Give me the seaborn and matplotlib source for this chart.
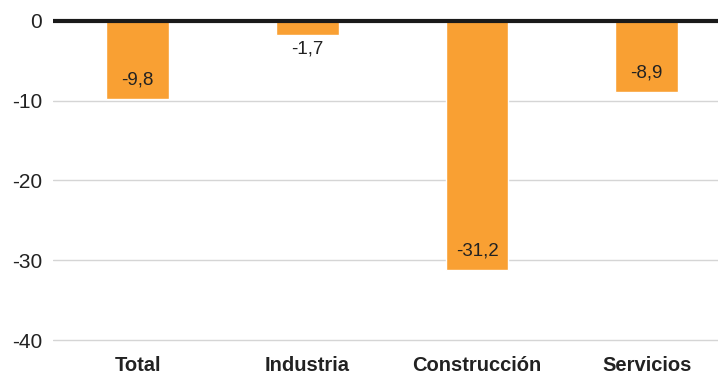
import matplotlib
matplotlib.use('Agg')
import matplotlib.pyplot as plt
import seaborn as sns
import pandas as pd

categories = ['Total', 'Industria', 'Construcción', 'Servicios']
values = [-9.8, -1.7, -31.2, -8.9]
labels = ['-9,8', '-1,7', '-31,2', '-8,9']

df = pd.DataFrame({'sector': categories, 'valor': values})

sns.set_style('white')
plt.rcParams['font.family'] = ['Liberation Sans', 'DejaVu Sans']

fig = plt.figure(figsize=(7.18, 3.76), dpi=100)
ax = fig.add_axes([0.0738, 0.0745, 0.9262, 0.8909])

sns.barplot(data=df, x='sector', y='valor', color='#F9A033', width=0.37,
            saturation=1, ax=ax, zorder=3)

ax.set_ylim(-41, 1)
ax.set_xlim(-0.5, 3.42)
ax.set_yticks([0, -10, -20, -30, -40])
ax.set_yticklabels(['0', '-10', '-20', '-30', '-40'])
ax.yaxis.grid(True, color='#D5D5D5', linewidth=1, zorder=0)
ax.axhline(0, color='#1a1a1a', linewidth=3, zorder=4)

for s in ax.spines.values():
    s.set_visible(False)
ax.tick_params(axis='y', length=0, pad=8, labelsize=15, labelcolor='#222222')
ax.tick_params(axis='x', length=0, pad=6, labelsize=14.5, labelcolor='#222222')
for t in ax.get_xticklabels():
    t.set_fontweight('bold')
ax.set_xlabel('')
ax.set_ylabel('')

# value labels: inside near the bar end, below the bar when it is short
for i, (v, lab) in enumerate(zip(values, labels)):
    y = v + 2.4 if v < -5 else v - 1.8
    ax.text(i, y, lab, ha='center', va='center', fontsize=13.5,
            color='#222222', zorder=5)

fig.savefig('out.png', dpi=100)
